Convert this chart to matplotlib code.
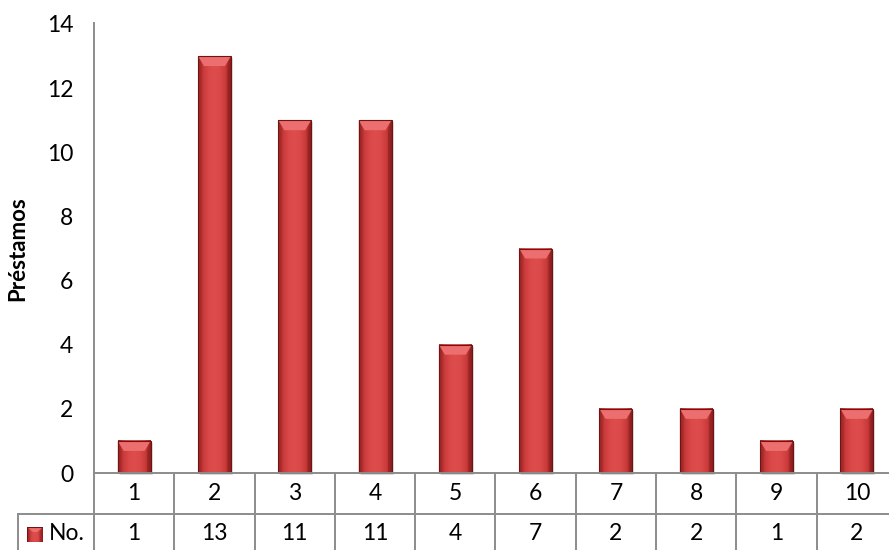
import numpy as np
import matplotlib
matplotlib.use("Agg")
import matplotlib.pyplot as plt
from matplotlib.patches import Polygon, Rectangle
from matplotlib.colors import LinearSegmentedColormap

plt.rcParams['font.family'] = ['Lato', 'DejaVu Sans']

categories = ["1", "2", "3", "4", "5", "6", "7", "8", "9", "10"]
values = [1, 13, 11, 11, 4, 7, 2, 2, 1, 2]
series_name = "No."
y_label = "Préstamos"
y_ticks = [0, 2, 4, 6, 8, 10, 12, 14]

W, H, DPI = 889, 550, 100
FS = 16.5
fig = plt.figure(figsize=(W / DPI, H / DPI), dpi=DPI)
fig.patch.set_facecolor("white")

# plot area in pixels
left_px, right_px, top_px, base_px = 94, 897, 24, 473
ax = fig.add_axes([left_px / W, (H - base_px) / H,
                   (right_px - left_px) / W, (base_px - top_px) / H])
n = len(categories)
ax.set_xlim(-0.5, n - 0.5)
ax.set_ylim(0, 14)
ax.set_yticks(y_ticks)
ax.set_xticks([])
ax.tick_params(axis="y", length=0, pad=15, labelsize=FS)
for s in ["top", "right", "bottom", "left"]:
    ax.spines[s].set_visible(False)
ax.set_facecolor("none")

grid_col = "#8c8c8c"
lw = 1.4

# px -> data scale
px_x = n / (right_px - left_px)
px_y = 14 / (base_px - top_px)

bar_w = 0.41
cmap = LinearSegmentedColormap.from_list(
    "barshade", ["#8e2020", "#cc3c3c", "#da4848", "#de4d4d", "#da4848", "#cc3c3c", "#8e2020"])
grad = np.linspace(0, 1, 64).reshape(1, -1)


def draw_bevel_bar(axis, xc, val, w, sx, sy, clip=True, shadow=True):
    x0, x1 = xc - w / 2, xc + w / 2
    if shadow:
        axis.add_patch(Rectangle((x0 + 2 * sx, -2 * sy), w, val, facecolor="#000000",
                                 alpha=0.12, edgecolor="none", zorder=2, clip_on=clip))
    im = axis.imshow(grad, cmap=cmap, extent=[x0, x1, 0, val], aspect="auto",
                     zorder=3, interpolation="bilinear")
    im.set_clip_on(clip)
    bev_x, bev_y = 6 * sx, 10 * sy
    side = 3.5 * sx
    # top bevel (lighter)
    axis.add_patch(Polygon([[x0, val], [x1, val], [x1 - bev_x, val - bev_y],
                            [x0 + bev_x, val - bev_y]], closed=True,
                           facecolor="#ec6e6e", edgecolor="none", zorder=4, clip_on=clip))
    # side bevels (darker)
    axis.add_patch(Polygon([[x0, val], [x0 + side, val - bev_y], [x0 + side, 0], [x0, 0]],
                           closed=True, facecolor="#a82828", edgecolor="none",
                           alpha=0.4, zorder=4, clip_on=clip))
    axis.add_patch(Polygon([[x1, val], [x1 - side, val - bev_y], [x1 - side, 0], [x1, 0]],
                           closed=True, facecolor="#8a1c1c", edgecolor="none",
                           alpha=0.45, zorder=4, clip_on=clip))
    axis.add_patch(Rectangle((x0, 0), w, val, facecolor="none", edgecolor="#6e1414",
                             linewidth=0.8, zorder=5, clip_on=clip))


for i, v in enumerate(values):
    draw_bevel_bar(ax, i, v, bar_w, px_x, px_y, clip=False)

ax.set_ylim(0, 14)
ax.set_xlim(-0.5, n - 0.5)


# data table below the plot area, drawn in figure pixel coordinates
def fx(px):
    return px / W


def fy(py):
    return 1 - py / H


row1_bottom = 514
row2_bottom = 556
legend_left = 18
col_w = (right_px - left_px) / n

fig.add_artist(plt.Line2D([fx(left_px), fx(left_px)], [fy(top_px - 1), fy(H + 5)],
                          color=grid_col, lw=lw))
fig.add_artist(plt.Line2D([fx(left_px), fx(right_px)], [fy(base_px), fy(base_px)],
                          color=grid_col, lw=lw, zorder=6))
fig.add_artist(plt.Line2D([fx(legend_left), fx(right_px)], [fy(row1_bottom), fy(row1_bottom)],
                          color=grid_col, lw=lw))
fig.add_artist(plt.Line2D([fx(legend_left), fx(legend_left)], [fy(row1_bottom), fy(H + 5)],
                          color=grid_col, lw=lw))
for k in range(1, n + 1):
    xx = left_px + k * col_w
    fig.add_artist(plt.Line2D([fx(xx), fx(xx)], [fy(base_px), fy(H + 5)],
                              color=grid_col, lw=lw))

for i, (c, v) in enumerate(zip(categories, values)):
    xc = left_px + (i + 0.5) * col_w
    fig.text(fx(xc), fy((base_px + row1_bottom) / 2), c, ha="center", va="center",
             fontsize=FS)
    fig.text(fx(xc), fy((row1_bottom + row2_bottom) / 2 - 1), str(v), ha="center",
             va="center", fontsize=FS)

# legend key in the table
kax = fig.add_axes([fx(27), fy(542), (43 - 27) / W, 15 / H])
kax.axis("off")
draw_bevel_bar(kax, 0.5, 1, 1, 1 / 16, 1 / 15 * 0.5, shadow=False)
kax.set_xlim(0, 1)
kax.set_ylim(0, 1)
fig.text(fx(49), fy((row1_bottom + row2_bottom) / 2 - 1), series_name, ha="left",
         va="center", fontsize=FS)

fig.text(fx(18), fy(249), y_label, rotation=90, ha="center", va="center",
         fontsize=16, fontweight="bold")

fig.savefig("out.png", dpi=DPI, facecolor="white")
